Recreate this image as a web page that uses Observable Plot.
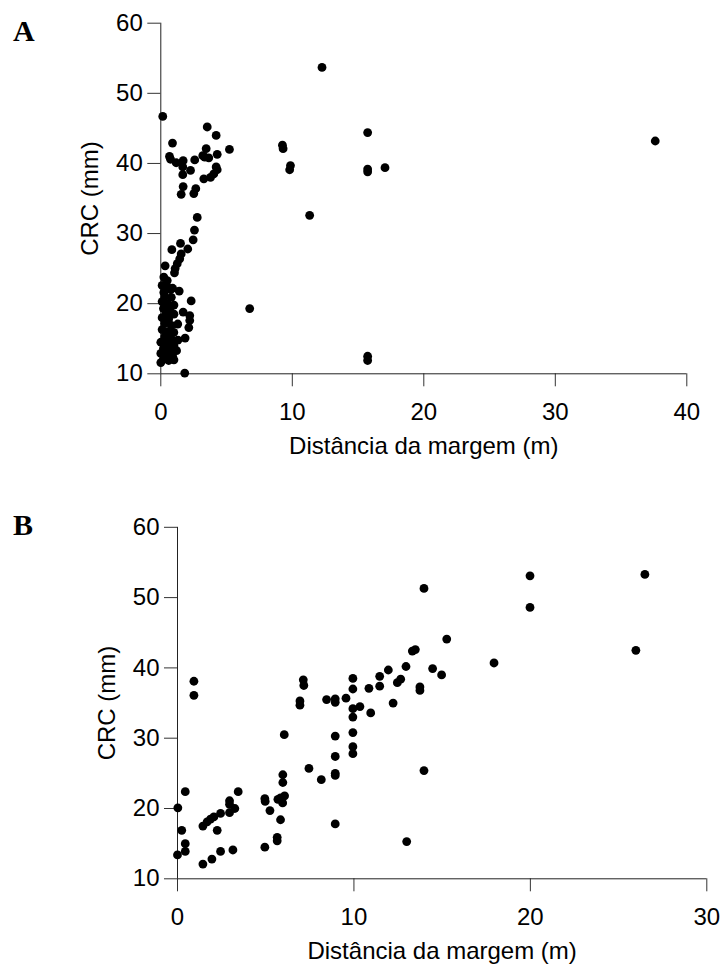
<!DOCTYPE html>
<html>
<head>
<meta charset="utf-8">
<script src="https://cdn.jsdelivr.net/npm/d3@7"></script>
<script src="https://cdn.jsdelivr.net/npm/@observablehq/plot@0.6"></script>
<style>
  html, body { margin: 0; padding: 0; background: #fff; }
  #wrap { position: relative; width: 725px; height: 972px; overflow: hidden; }
  .panel { position: absolute; left: 0; z-index: 1; }
  .tag { position: absolute; z-index: 5; font-family: "Liberation Serif", "Times New Roman", serif; font-weight: bold; font-size: 30px; line-height: 1; color: #000; }
</style>
</head>
<body>
<div id="wrap">
  <div id="pa" class="panel" style="top:0px;"></div>
  <div id="pb" class="panel" style="top:480px;"></div>
  <div class="tag" style="left:13px; top:16px;">A</div>
  <div class="tag" style="left:13px; top:510px;">B</div>
</div>
<script>
// ---------- Data ----------
const xLabel = "Distância da margem (m)";
const yLabel = "CRC (mm)";
const yTicks = [10, 20, 30, 40, 50, 60];
const xTicksA = [0, 10, 20, 30, 40];
const xTicksB = [0, 10, 20, 30];

// Panel A: distance from margin (m) and CRC (mm)
const distA = [0.15,12.26,15.73,9.25,9.3,9.86,9.8,11.32,15.73,15.73,17.05,37.6,6.76,15.73,15.73,1.82,
  3.53,4.21,0.89,5.22,3.45,0.66,0.74,1.17,1.70,1.67,2.26,1.67,2.58,3.19,3.34,3.65,4.29,4.21,4.29,4.03,3.78,3.27,1.70,1.55,2.66,2.51,2.77,
  2.56,2.46,1.50,2.05,0.84,1.55,1.44,1.25,1.09,1.04,0.33,0.23,0.49,0.74,1.40,0.23,2.31,1.70,2.20,2.20,2.13,1.85,1.29,0.99,
  0.1,0.5,0.9,0.3,0.8,0.1,0.5,1.0,0.2,0.7,0.4,1.0,0.1,0.6,0.3,0.8,0.1,0.5,0.3,0.8,1.3,0.0,0.5,1.0,0.2,0.7,1.2,0.0,0.5,0.9,0.2,0.6,0.0,1.0];
const crcA = [46.7,53.7,44.4,42.6,42.1,39.7,39.1,32.6,39.2,38.8,39.4,43.2,19.3,12.5,11.9,10.1,
  45.2,44.0,42.9,42.0,42.1,41.0,40.6,40.1,40.4,39.5,39.0,38.4,40.5,41.1,40.9,40.8,41.3,39.5,39.1,38.5,38.0,37.8,36.7,35.6,36.4,35.7,32.3,
  30.5,29.1,28.6,27.8,27.7,27.1,26.4,25.7,25.0,24.4,25.4,23.8,23.3,22.0,21.8,21.6,20.4,18.8,18.3,17.6,16.6,15.1,17.1,15.9,
  22.6,22.4,22.2,21.0,20.9,20.3,20.0,19.8,19.3,19.1,18.6,18.5,18.0,17.8,17.2,16.9,16.3,16.0,15.3,15.0,14.8,14.5,14.3,14.0,13.6,13.4,13.3,12.9,12.7,12.5,12.1,11.9,11.6,12.0];

// Panel B
const distB = [0.93,0.93,7.13,7.16,6.94,6.94,8.45,8.94,8.94,9.55,9.94,9.94,
  6.05,8.94,8.94,8.94,8.94,7.45,8.15,8.94,
  5.97,5.97,6.07,5.96,5.69,5.84,4.95,4.97,5.24,5.84,5.65,5.65,4.95,
  3.44,2.95,2.95,3.25,2.95,2.44,2.06,1.87,1.68,1.44,2.25,
  0.44,0.02,0.24,0.44,0.44,0.0,1.44,1.95,2.44,3.14,
  13.97,15.26,17.94,13.31,13.48,12.95,14.46,14.97,11.95,11.46,11.46,10.85,
  9.94,9.94,10.34,10.95,12.46,12.65,12.22,13.74,13.74,
  9.94,9.94,9.94,13.97,12.99,
  19.98,19.98,26.49,25.98];
const crcB = [38.1,36.1,38.3,37.5,35.3,34.7,35.5,35.6,35.1,35.7,38.5,37.0,
  30.5,30.3,27.4,25.0,24.7,25.7,24.1,17.8,
  24.8,23.7,21.8,20.8,21.3,21.5,21.4,21.0,19.7,18.4,15.9,15.4,14.5,
  22.4,21.1,20.6,20.0,19.4,19.3,18.8,18.5,18.1,17.5,16.9,
  22.4,20.1,16.9,15.0,13.9,13.4,12.1,12.8,13.9,14.1,
  51.3,44.1,40.7,42.4,42.6,40.2,39.9,39.0,39.7,38.8,37.4,37.1,
  34.2,33.0,34.5,33.6,37.9,38.4,35.0,37.3,36.8,
  30.8,28.8,27.8,25.4,15.3,
  53.1,48.6,53.3,42.5];

// ---------- Chart builder ----------
function panel({dist, crc, xMax, xTicks, width, height, mL, mR, mT, mB}) {
  const data = dist.map((d, i) => ({d, c: crc[i]}));
  return Plot.plot({
    width, height,
    marginLeft: mL, marginRight: mR, marginTop: mT, marginBottom: mB,
    x: {domain: [0, xMax]},
    y: {domain: [10, 60]},
    style: {fontFamily: "'Liberation Sans', Arial, sans-serif", fontSize: "24px", color: "#000", background: "#fff", overflow: "visible"},
    marks: [
      Plot.axisX({ticks: xTicks, tickSize: 13, tickPadding: 16, label: null, stroke: "#333"}),
      Plot.axisY({ticks: yTicks, tickSize: 13, tickPadding: 5, label: null, stroke: "#333"}),
      Plot.ruleX([0], {y1: 10, y2: 60, stroke: "#222"}),
      Plot.ruleY([10], {x1: 0, x2: xMax, stroke: "#222"}),
      Plot.text([xLabel], {frameAnchor: "bottom", dy: 63, lineAnchor: "top", textAnchor: "middle", fontSize: 24, fill: "#000"}),
      Plot.text([yLabel], {frameAnchor: "left", dx: -80, rotate: -90, lineAnchor: "top", textAnchor: "middle", fontSize: 24, fill: "#000"}),
      Plot.dot(data, {x: "d", y: "c", r: 4.4, fill: "#000", stroke: "none"})
    ]
  });
}

document.getElementById("pa").appendChild(panel({
  dist: distA, crc: crcA, xMax: 40, xTicks: xTicksA,
  width: 725, height: 470, mL: 160.3, mR: 38.7, mT: 22.7, mB: 96.7
}));
document.getElementById("pb").appendChild(panel({
  dist: distB, crc: crcB, xMax: 30, xTicks: xTicksB,
  width: 725, height: 492, mL: 177, mR: 18.7, mT: 46.8, mB: 93.7
}));
</script>
</body>
</html>
